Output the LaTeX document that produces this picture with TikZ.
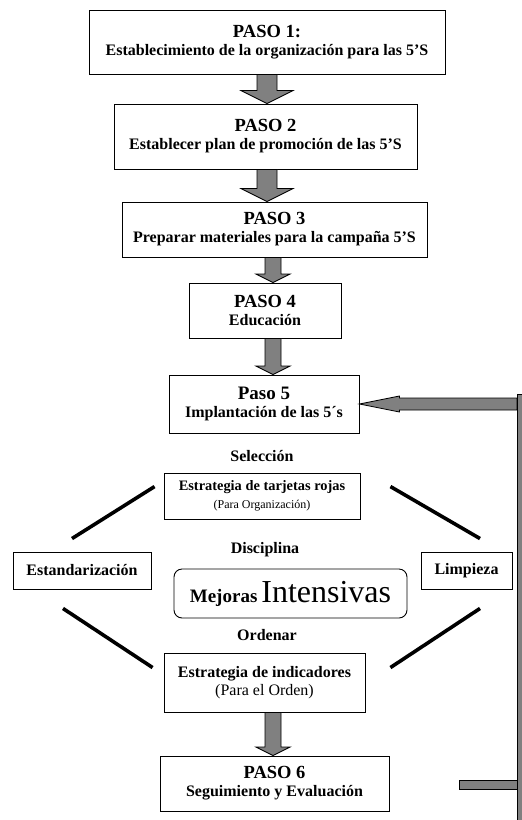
\documentclass[tikz,border=0pt]{standalone}
\usepackage{fontspec}
\setmainfont{Liberation Serif}
\usetikzlibrary{calc}
\definecolor{arrgray}{HTML}{808080}
\newcommand{\pasofont}{\fontsize{18.5}{20}\selectfont}
\newcommand{\blockdown}[5]{%
  \path let \p1=(#1 |- #2.south), \p2=(#1 |- #3.north) in
    [blk] (\x1-#4pt,\y1) -- (\x1+#4pt,\y1) -- (\x1+#4pt,\y2+0.5*#5pt)
    -- (\x1+#5pt,\y2+0.5*#5pt) -- (\x1,\y2) -- (\x1-#5pt,\y2+0.5*#5pt)
    -- (\x1-#4pt,\y2+0.5*#5pt) -- cycle;}

\begin{document}
\begin{tikzpicture}[x=1pt, y=-1pt,
  font=\fontsize{16}{18}\selectfont\bfseries,
  box/.style={draw, line width=0.9pt, align=center, inner sep=1pt},
  lbl/.style={inner sep=1pt},
  diag/.style={line width=3.6pt},
  blk/.style={draw, fill=arrgray, line width=0.8pt}]
\useasboundingbox (0,0) rectangle (522,820);
\node[box, minimum width=356pt, minimum height=64pt] (p1) at (267,42)
  {{\pasofont PASO 1:}\\ Establecimiento de la organización para las 5'S};
\node[box, minimum width=303pt, minimum height=65pt] (p2) at (265.5,136.5)
  {{\pasofont PASO 2}\\ Establecer plan de promoción de las 5'S};
\node[box, minimum width=305pt, minimum height=55pt] (p3) at (274.5,229.5)
  {{\pasofont PASO 3}\\ Preparar materiales para la campaña 5'S};
\node[box, minimum width=152pt, minimum height=55pt] (p4) at (265,310.5)
  {{\pasofont PASO 4}\\ Educación};
\node[box, minimum width=190pt, minimum height=58pt] (p5) at (264,404)
  {{\fontsize{19}{20}\selectfont Paso 5}\\ Implantación de las 5´s};
\node[lbl] (sel) at (262,456) {Selección};
\node[box, minimum width=196pt, minimum height=46pt] (tr) at (262,496)
  {{\fontsize{14.4}{16}\selectfont Estrategia de tarjetas rojas}\\
   {\fontsize{12}{13}\selectfont\mdseries (Para Organización)}};
\node[lbl] (dis) at (265,550) {Disciplina};
\node[box, minimum width=138pt, minimum height=37pt] (est) at (82,570.5) {Estandarización};
\node[box, minimum width=91pt, minimum height=37pt] (lim) at (466.5,570.5) {Limpieza};
\node[box, rounded corners=8pt, minimum width=233pt, minimum height=49pt] (mej) at (290.5,593.5)
  {{\fontsize{19}{20}\selectfont Mejoras} {\fontsize{32}{34}\selectfont\mdseries Intensivas}};
\node[lbl] (ord) at (267,635) {Ordenar};
\node[box, minimum width=201pt, minimum height=59pt] (ind) at (264.5,682.5)
  {Estrategia de indicadores\\ {\mdseries (Para el Orden)}};
\node[box, minimum width=229pt, minimum height=55pt] (p6) at (274.5,783.5)
  {{\pasofont PASO 6}\\ Seguimiento y Evaluación};
\coordinate (c1) at (267,0);
\coordinate (c2) at (273,0);
\blockdown{c1}{p1}{p2}{10}{26}
\blockdown{c1}{p2}{p3}{10}{26}
\blockdown{c2}{p3}{p4}{8}{17}
\blockdown{c2}{p4}{p5}{8}{17}
\blockdown{c2}{ind}{p6}{8}{17}
\draw[diag] ([xshift=-10pt,yshift=13pt]est.north) -- ([xshift=-9pt,yshift=-14pt]tr.north west);
\draw[diag] ([xshift=30pt,yshift=-14pt]tr.north east) -- ([xshift=13.5pt,yshift=13pt]lim.north);
\draw[diag] ([xshift=-19pt,yshift=-19pt]est.south) -- ([xshift=-11pt,yshift=-15pt]ind.north west);
\draw[diag] ([xshift=25pt,yshift=-15pt]ind.north east) -- ([xshift=13.5pt,yshift=-19pt]lim.south);
\coordinate (fbtop) at (517,394);
\coordinate (fbbot) at (527,824);
\coordinate (fbend) at (459,780);
\path let \p1=(fbtop |- p5.east), \p2=(p5.east) in
  [blk] (\x1,\y1+6pt) -- (\x2+40pt,\y1+6pt) -- (\x2+40pt,\y1+8pt) -- (\x2,\y2)
  -- (\x2+40pt,\y1-8pt) -- (\x2+40pt,\y1-6pt) -- (\x1,\y1-6pt) -- cycle;
\draw[blk] (fbend) rectangle ($(fbtop |- fbend)+(0,9)$);
\draw[blk] (fbtop) rectangle (fbbot);
\end{tikzpicture}
\end{document}
